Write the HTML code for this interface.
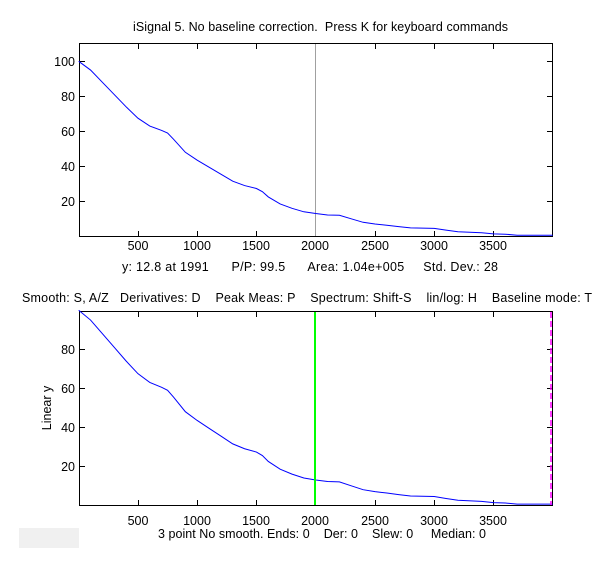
<!DOCTYPE html>
<html><head><style>
body{margin:0;background:#fff;}
svg text{font-family:"Liberation Sans",Arial,sans-serif;font-size:12.5px;fill:#000;white-space:pre;}
</style></head><body>
<svg width="610" height="567" viewBox="0 0 610 567" xmlns="http://www.w3.org/2000/svg">
<rect width="610" height="567" fill="#fff"/>
<text x="133" y="31" textLength="375">iSignal 5. No baseline correction.  Press K for keyboard commands</text>
<g stroke="#000" stroke-width="1" fill="none">
<rect x="79.5" y="43.5" width="473" height="193"/>
<path d="M138.5 236v-5M197.5 236v-5M256.5 236v-5M315.5 236v-5M375.5 236v-5M434.5 236v-5M493.5 236v-5
M138.5 44v5M197.5 44v5M256.5 44v5M315.5 44v5M375.5 44v5M434.5 44v5M493.5 44v5
M80 201.5h5M80 166.5h5M80 131.5h5M80 96.5h5M80 61.5h5
M552 201.5h-5M552 166.5h-5M552 131.5h-5M552 96.5h-5M552 61.5h-5"/>
</g>
<line x1="315.5" y1="44" x2="315.5" y2="236" stroke="#a0a0a0" stroke-width="1"/>
<g text-anchor="middle">
<text x="138" y="250">500</text><text x="197" y="250">1000</text><text x="256" y="250">1500</text><text x="315" y="250">2000</text><text x="375" y="250">2500</text><text x="434" y="250">3000</text><text x="493" y="250">3500</text>
</g>
<g text-anchor="end">
<text x="75" y="206">20</text><text x="75" y="171">40</text><text x="75" y="136">60</text><text x="75" y="101">80</text><text x="75" y="66">100</text>
</g>
<text x="122" y="271" textLength="376">y: 12.8 at 1991      P/P: 99.5      Area: 1.04e+005     Std. Dev.: 28</text>
<defs>
<polyline id="curve" fill="none" stroke="#0000ff" stroke-width="1" vector-effect="non-scaling-stroke"
points="0,100 100,95 200,88 300,81 400,74 500,67.5 600,63 700,60.5 750,59 800,55.5 900,48 1000,43.5 1100,39.5 1200,35.5 1300,31.5 1400,29 1500,27.3 1550,25.5 1600,22.5 1700,18.5 1800,16 1900,14 2000,13 2100,12.2 2200,12 2300,10 2400,8 2500,7 2600,6.3 2700,5.5 2800,4.8 3000,4.5 3100,3.5 3200,2.6 3400,2 3500,1.4 3600,1.2 3700,0.6 4000,0.6"/>
</defs>
<use href="#curve" transform="translate(78.7,236.3) scale(0.1185,-1.75)"/>
<text x="22" y="302" textLength="570">Smooth: S, A/Z   Derivatives: D    Peak Meas: P    Spectrum: Shift-S    lin/log: H    Baseline mode: T</text>
<g stroke="#000" stroke-width="1" fill="none">
<rect x="79.5" y="311.5" width="473" height="194"/>
<path d="M138.5 505v-5M197.5 505v-5M256.5 505v-5M315.5 505v-5M375.5 505v-5M434.5 505v-5M493.5 505v-5
M138.5 312v5M197.5 312v5M256.5 312v5M315.5 312v5M375.5 312v5M434.5 312v5M493.5 312v5
M80 466.5h5M80 427.5h5M80 388.5h5M80 349.5h5
M552 466.5h-5M552 427.5h-5M552 388.5h-5M552 349.5h-5"/>
</g>
<use href="#curve" transform="translate(78.7,505.3) scale(0.1185,-1.95)"/>
<line x1="315" y1="312" x2="315" y2="505" stroke="#00ff00" stroke-width="2"/>
<line x1="551" y1="312" x2="551" y2="505" stroke="#ff00ff" stroke-width="1.5" stroke-dasharray="6,3"/>
<g text-anchor="middle">
<text x="138" y="525">500</text><text x="197" y="525">1000</text><text x="256" y="525">1500</text><text x="315" y="525">2000</text><text x="375" y="525">2500</text><text x="434" y="525">3000</text><text x="493" y="525">3500</text>
</g>
<g text-anchor="end">
<text x="75" y="471">20</text><text x="75" y="432">40</text><text x="75" y="393">60</text><text x="75" y="354">80</text>
</g>
<text transform="translate(51,408) rotate(-90)" text-anchor="middle">Linear y</text>
<text x="158" y="538" textLength="328">3 point No smooth. Ends: 0    Der: 0    Slew: 0     Median: 0</text>
<rect x="19" y="528" width="60" height="20" fill="#f0f0f0"/>
</svg>
</body></html>
